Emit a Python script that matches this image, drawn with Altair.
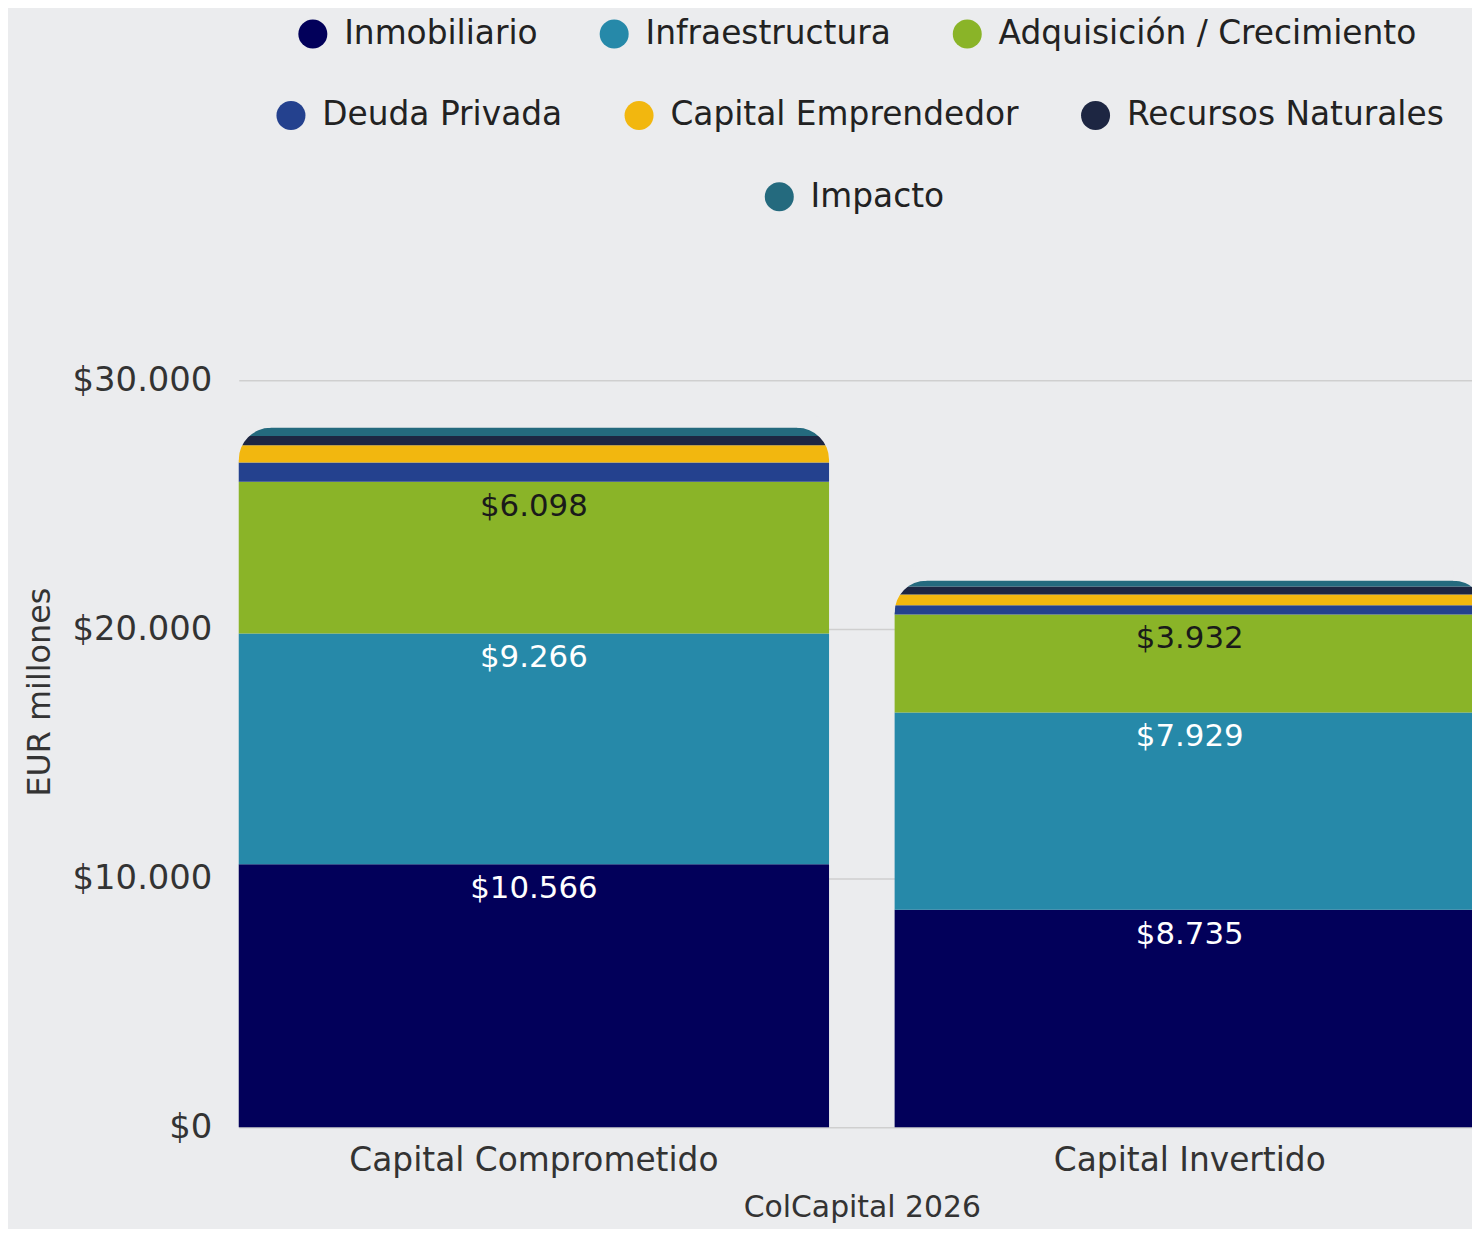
import math
import altair as alt
import pandas as pd

FONT = "DejaVu Sans"
BG = "#ebecee"

categories = ["Capital Comprometido", "Capital Invertido"]
series = ["Inmobiliario", "Infraestructura", "Adquisición / Crecimiento",
          "Deuda Privada", "Capital Emprendedor", "Recursos Naturales", "Impacto"]
colors = ["#02005a", "#2689a9", "#8ab428", "#24418e", "#f2b70f", "#1d2642", "#246a7e"]
comprometido = [10566, 9266, 6098, 770, 695, 370, 330]
invertido = [8735, 7929, 3932, 370, 430, 330, 230]
labeled = series[:3]
legend_rows = [series[0:3], series[3:6], series[6:7]]

rows = []
for i, s in enumerate(series):
    rows.append({"cat": categories[0], "series": s, "order": i, "value": comprometido[i]})
    rows.append({"cat": categories[1], "series": s, "order": i, "value": invertido[i]})
df = pd.DataFrame(rows)
totals = pd.DataFrame({"cat": categories, "total": [sum(comprometido), sum(invertido)]})

R = 32
W = 1253
band_half = W / 1.9 * 0.9 / 2

x_enc = alt.X("cat:N", sort=categories,
              scale=alt.Scale(paddingInner=0.1, paddingOuter=0),
              axis=alt.Axis(title="ColCapital 2026", labelAngle=0, ticks=False, domain=False,
                            grid=False, labelFontSize=33, labelColor="#333333", labelPadding=18,
                            labelLimit=1000,
                            titleFontSize=30, titleFontWeight="normal", titleColor="#333333",
                            titlePadding=15))
y_scale = alt.Scale(domain=[0, 35000], nice=False)

base = alt.Chart(df).transform_stack(
    stack="value", groupby=["cat"], as_=["v0", "v1"],
    sort=[alt.SortField("order", order="ascending")])

bars = base.mark_bar().encode(
    x=x_enc,
    y=alt.Y("v0:Q", scale=y_scale,
            axis=alt.Axis(values=[0, 10000, 20000, 30000], format="$,.0f", title="EUR millones",
                          ticks=False, domain=False, labelFontSize=34, labelColor="#333333",
                          labelPadding=27, gridColor="#cfcfcf", gridWidth=1.5,
                          titleFontSize=32, titleFontWeight="normal", titleColor="#333333",
                          titlePadding=16)),
    y2="v1:Q",
    color=alt.Color("series:N", scale=alt.Scale(domain=series, range=colors), legend=None),
)

masks = []
for xo, t0, t1 in [(-(band_half - R), 1.5 * math.pi, 2 * math.pi), ((band_half - R), 0, 0.5 * math.pi)]:
    masks.append(alt.Chart(totals).mark_arc(
        innerRadius=R, outerRadius=R * 1.5, theta=t0, theta2=t1, color=BG,
        xOffset=xo, yOffset=R).encode(
        x=alt.X("cat:N", sort=categories),
        y=alt.Y("total:Q"),
    ))

labels = base.transform_filter(
    alt.FieldOneOfPredicate(field="series", oneOf=labeled)
).mark_text(baseline="middle", dy=25, fontSize=31, font=FONT).encode(
    x=alt.X("cat:N", sort=categories),
    y=alt.Y("v1:Q"),
    text=alt.Text("value:Q", format="$,.0f"),
    color=alt.condition(alt.datum.series == "Adquisición / Crecimiento",
                        alt.value("#1a1a1a"), alt.value("#ffffff")),
)

legend_pos = [(58, -240), (36, -158), (527, -76)]
legend_layers = []
for names, (lx, ly) in zip(legend_rows, legend_pos):
    sub = pd.DataFrame({"series": names})
    legend_layers.append(alt.Chart(sub).mark_circle(opacity=0).encode(
        color=alt.Color("series:N",
                        scale=alt.Scale(domain=names, range=[colors[series.index(n)] for n in names]),
                        legend=alt.Legend(title=None, orient="none", legendX=lx, legendY=ly,
                                          direction="horizontal", symbolType="circle",
                                          symbolSize=850, symbolOpacity=1, symbolStrokeWidth=0,
                                          labelFontSize=33, labelFont=FONT, labelColor="#222222",
                                          columnPadding=60, labelOffset=15, labelLimit=1000,
                                          padding=0))
    ))

chart = alt.layer(bars, *masks, labels, *legend_layers).resolve_scale(
    color="independent").resolve_legend(color="independent").properties(
    width=W, height=876,
    autosize=alt.AutoSizeParams(type="none"),
    padding={"left": 232, "top": 246, "right": -13, "bottom": 99},
    background=BG,
).configure(
    font=FONT,
    locale=alt.Locale(number=alt.NumberLocale(decimal=",", thousands=".", grouping=[3],
                                              currency=["$", ""])),
).configure_view(stroke=None)

chart.save("out.html", embed_options={"renderer": "svg", "actions": False})
